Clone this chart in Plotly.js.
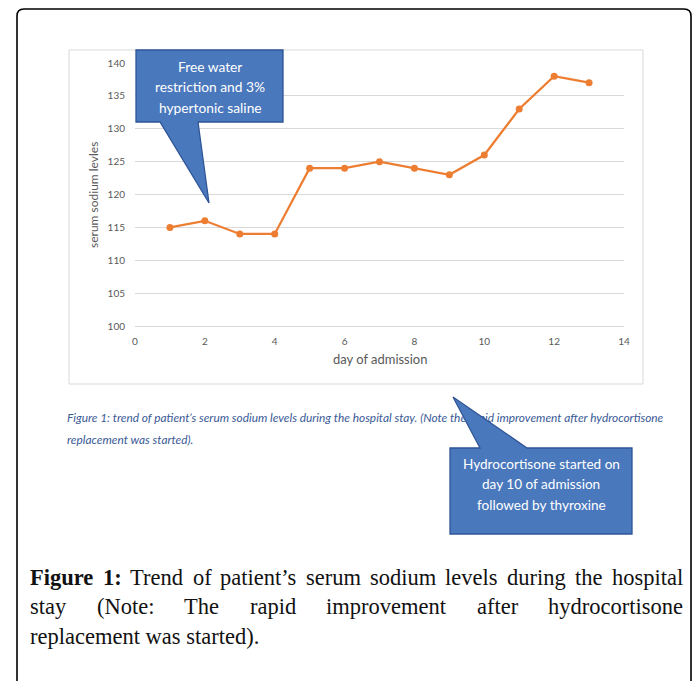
<!DOCTYPE html>
<html>
<head>
<meta charset="utf-8">
<script src="https://cdn.plot.ly/plotly-3.0.1.min.js"></script>
<style>html,body{margin:0;padding:0;background:#fff;overflow:hidden}</style>
</head>
<body>
<div id="chart" style="width:695px;height:681px"></div>
<script>
// ---------- data ----------
const days = [1, 2, 3, 4, 5, 6, 7, 8, 9, 10, 11, 12, 13];
const sodium = [115, 116, 114, 114, 124, 124, 125, 124, 123, 126, 133, 138, 137];
const xTickVals = [0, 2, 4, 6, 8, 10, 12, 14];
const yTickVals = [100, 105, 110, 115, 120, 125, 130, 135, 140];
const xTitle = 'day of admission';
const yTitle = 'serum sodium levles';
const callout1Lines = ['Free water', 'restriction and 3%', 'hypertonic saline'];
const callout2Lines = ['Hydrocortisone started on', 'day 10 of admission', 'followed by thyroxine'];
const smallCaption = [
  "Figure 1: trend of patient\u2019s serum sodium levels during the hospital stay. (Note the rapid improvement after hydrocortisone",
  'replacement was started).'
];
const captionLabel = ['Figure', '1:'];
const captionLine1 = ['Trend', 'of', 'patient\u2019s', 'serum', 'sodium', 'levels', 'during', 'the', 'hospital'];
const captionLine2 = ['stay', '(Note:', 'The', 'rapid', 'improvement', 'after', 'hydrocortisone'];
const captionLine3 = 'replacement was started).';

// ---------- layout helpers ----------
const FW = 695, FH = 681;
const L = 135, T = 63, W = 489, H = 263;          // plot area in pixels
const fx = p => p / FW;                           // pixel -> paper (margins are 0)
const fy = p => 1 - p / FH;

const ctx = document.createElement('canvas').getContext('2d');
function tw(text, size, family, weight, style) {
  ctx.font = (style || 'normal') + ' ' + (weight || 'normal') + ' ' + size + 'px "' + family + '"';
  return ctx.measureText(text).width;
}
function fit(text, family, target, weight, style) {
  return 20 * target / tw(text, 20, family, weight, style);
}

const SANS = 'Lato';
const SERIF = 'Liberation Serif';
const ORANGE = '#ED7D31';
const GRID = '#d9d9d9';
const TICK = '#595959';
const CALL_FILL = '#4a78bd';
const CALL_LINE = '#2f5597';

const shapes = [];
const annotations = [];

// outer rounded frame
(function () {
  const l = 17, r = 691, t = 9, b = 720, rad = 7;
  const path = 'M' + fx(l) + ',' + fy(b) + ' L' + fx(l) + ',' + fy(t + rad) +
    ' Q' + fx(l) + ',' + fy(t) + ' ' + fx(l + rad) + ',' + fy(t) +
    ' L' + fx(r - rad) + ',' + fy(t) +
    ' Q' + fx(r) + ',' + fy(t) + ' ' + fx(r) + ',' + fy(t + rad) +
    ' L' + fx(r) + ',' + fy(b);
  shapes.push({type: 'path', xref: 'paper', yref: 'paper', path: path,
    line: {color: '#000', width: 1.6}, layer: 'below'});
})();

// inner chart frame
shapes.push({type: 'rect', xref: 'paper', yref: 'paper',
  x0: fx(69), x1: fx(643), y0: fy(384), y1: fy(50),
  line: {color: GRID, width: 1}, fillcolor: '#fff', layer: 'below'});

function polyPath(pts) {
  return pts.map((p, i) => (i ? 'L' : 'M') + fx(p[0]) + ',' + fy(p[1])).join(' ') + ' Z';
}
// callout 1
shapes.push({type: 'path', xref: 'paper', yref: 'paper', layer: 'above',
  path: polyPath([[136, 50], [283, 50], [283, 122], [198, 122], [209, 203], [160, 122], [136, 122]]),
  fillcolor: CALL_FILL, line: {color: CALL_LINE, width: 1.3}});
// callout 2
shapes.push({type: 'path', xref: 'paper', yref: 'paper', layer: 'above',
  path: polyPath([[450, 448], [480, 448], [453, 397], [527, 448], [632, 448], [632, 534], [450, 534]]),
  fillcolor: CALL_FILL, line: {color: CALL_LINE, width: 1.3}});

const c1Size = fit(callout1Lines[1], SANS, 110);
[66.7, 86.7, 107].forEach((y, i) => annotations.push({
  xref: 'paper', yref: 'paper', x: fx(210), y: fy(y), xanchor: 'center', yanchor: 'middle',
  text: callout1Lines[i], showarrow: false, font: {family: SANS, size: c1Size, color: '#fff'}}));
const c2Size = fit(callout2Lines[0], SANS, 157);
[463.5, 484, 504.5].forEach((y, i) => annotations.push({
  xref: 'paper', yref: 'paper', x: fx(541), y: fy(y), xanchor: 'center', yanchor: 'middle',
  text: callout2Lines[i], showarrow: false, font: {family: SANS, size: c2Size, color: '#fff'}}));

// axis titles
const xtSize = fit(xTitle, SANS, 95);
annotations.push({xref: 'paper', yref: 'paper', x: fx(379.5), y: fy(359), xanchor: 'center', yanchor: 'middle',
  text: xTitle, showarrow: false, font: {family: SANS, size: xtSize, color: TICK}});
annotations.push({xref: 'paper', yref: 'paper', x: fx(93), y: fy(195), xanchor: 'center', yanchor: 'middle',
  text: yTitle, textangle: -90, showarrow: false, font: {family: SANS, size: 12, color: TICK}});

// bottom caption (justified lines)
const CAP = 22.5, capL = 29, capR = 682;
function justify(words, bolds, y) {
  const widths = words.map((w, i) => tw(w, CAP, SERIF, bolds[i] ? 'bold' : 'normal'));
  const total = widths.reduce((a, b) => a + b, 0);
  const gap = (capR - capL - total) / (words.length - 1);
  let x = capL;
  words.forEach((w, i) => {
    annotations.push({xref: 'paper', yref: 'paper', x: fx(x), y: fy(y), xanchor: 'left', yanchor: 'middle',
      text: bolds[i] ? '<b>' + w + '</b>' : w, showarrow: false, borderpad: 0,
      font: {family: SERIF, size: CAP, color: '#111'}});
    x += widths[i] + gap;
  });
}
justify(captionLabel.concat(captionLine1), captionLabel.map(() => true).concat(captionLine1.map(() => false)), 577);
justify(captionLine2, captionLine2.map(() => false), 606.5);
annotations.push({xref: 'paper', yref: 'paper', x: fx(capL), y: fy(636), xanchor: 'left', yanchor: 'middle',
  text: captionLine3, showarrow: false, borderpad: 0, font: {family: SERIF, size: CAP, color: '#111'}});

// small in-figure caption: text trace on a full-figure pixel axis pair (under the callout pointer)
const scSize = fit(smallCaption[0], SANS, 597, 'normal', 'italic');

const traces = [
  {
    x: days, y: sodium, type: 'scatter', mode: 'lines+markers',
    line: {color: ORANGE, width: 2.25},
    marker: {color: ORANGE, size: 7},
    hoverinfo: 'skip', cliponaxis: false
  },
  {
    x: [67, 67], y: [419, 441.5], xaxis: 'x2', yaxis: 'y2', type: 'scatter', mode: 'text',
    text: smallCaption.map(s => '<i>' + s + '</i>'), textposition: 'middle right',
    textfont: {family: SANS, size: scSize, color: '#3a5a96'},
    cliponaxis: false, hoverinfo: 'skip'
  }
];

const layout = {
  width: FW, height: FH,
  margin: {l: 0, r: 0, t: 0, b: 0, pad: 0},
  paper_bgcolor: '#fff', plot_bgcolor: 'rgba(0,0,0,0)',
  showlegend: false, hovermode: false,
  xaxis: {
    domain: [L / FW, (L + W) / FW], anchor: 'y',
    range: [0, 14], tickvals: xTickVals, ticktext: xTickVals.map(String),
    showgrid: false, zeroline: false, showline: true, linecolor: GRID, linewidth: 1,
    ticks: '', ticklabelstandoff: 6, automargin: false,
    tickfont: {family: SANS, size: 10, color: TICK}, fixedrange: true
  },
  yaxis: {
    domain: [1 - (T + H) / FH, 1 - T / FH], anchor: 'x',
    range: [100, 140], tickvals: yTickVals, ticktext: yTickVals.map(String),
    showgrid: true, gridcolor: GRID, gridwidth: 1, zeroline: false, showline: false,
    ticks: '', ticklabelstandoff: 9, automargin: false,
    tickfont: {family: SANS, size: 10, color: TICK}, fixedrange: true
  },
  xaxis2: {domain: [0, 1], anchor: 'y2', range: [0, FW], visible: false, fixedrange: true},
  yaxis2: {domain: [0, 1], anchor: 'x2', range: [FH, 0], visible: false, fixedrange: true},
  shapes: shapes,
  annotations: annotations
};

Plotly.newPlot('chart', traces, layout, {displayModeBar: false, staticPlot: true});
</script>
</body>
</html>
